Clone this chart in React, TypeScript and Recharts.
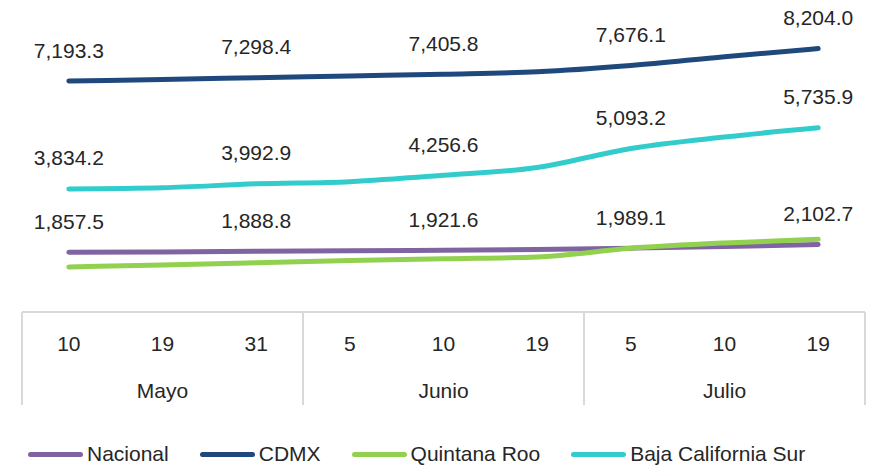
import { LineChart, Line, XAxis, YAxis, LabelList } from "recharts";

const days = ["10", "19", "31", "5", "10", "19", "5", "10", "19"];
const months = ["Mayo", "Mayo", "Mayo", "Junio", "Junio", "Junio", "Julio", "Julio", "Julio"];

const nacional = [1857.5, 1872, 1888.8, 1905, 1921.6, 1950, 1989.1, 2040, 2102.7];
const cdmx = [7193.3, 7240, 7298.4, 7350, 7405.8, 7480, 7676.1, 7950, 8204.0];
const quintanaRoo = [1405, 1460, 1530, 1600, 1660, 1715, 1985, 2150, 2265];
const bcs = [3834.2, 3870, 3992.9, 4060, 4256.6, 4500, 5093.2, 5450, 5735.9];

const series = [
  { key: "nacional", name: "Nacional", color: "#8064A2", labels: true },
  { key: "cdmx", name: "CDMX", color: "#1F497D", labels: true },
  { key: "quintanaRoo", name: "Quintana Roo", color: "#92D050", labels: false },
  { key: "bcs", name: "Baja California Sur", color: "#33CCCC", labels: true },
];

const data = days.map((d, i) => ({
  cat: `${d}-${months[i]}`,
  nacional: nacional[i],
  cdmx: cdmx[i],
  quintanaRoo: quintanaRoo[i],
  bcs: bcs[i],
}));

const W = 872;
const H = 467;
const AXIS_H = 30;
// axis line sits at y = 312
const margin = { top: 23, right: 7, left: 22, bottom: 155 - AXIS_H };
const band = (W - margin.left - margin.right) / days.length;
const FONT = "'Liberation Sans', Arial, sans-serif";
const GRID = "#d9d9d9";
const TEXT = "#262626";

const fmt = (v: number) =>
  v.toLocaleString("en-US", { minimumFractionDigits: 1, maximumFractionDigits: 1 });

function Tick(props: any) {
  const { x, y, payload } = props;
  const i = payload.index;
  const half = band / 2;
  const startsGroup = i === 0 || months[i] !== months[i - 1];
  const groupSize = months.filter((m) => m === months[i]).length;
  const groupStart = months.indexOf(months[i]);
  const isMiddle = i === groupStart + Math.floor(groupSize / 2);
  return (
    <g>
      <text x={x} y={y + 31} textAnchor="middle" dominantBaseline="central" fontSize={21} fill={TEXT} fontFamily={FONT}>
        {days[i]}
      </text>
      {isMiddle && (
        <text x={x} y={y + 78} textAnchor="middle" dominantBaseline="central" fontSize={21} fill={TEXT} fontFamily={FONT}>
          {months[i]}
        </text>
      )}
      {startsGroup && <line x1={x - half} x2={x - half} y1={y} y2={y + 93} stroke={GRID} strokeWidth={2} />}
      {i === days.length - 1 && (
        <line x1={x + half} x2={x + half} y1={y} y2={y + 93} stroke={GRID} strokeWidth={2} />
      )}
    </g>
  );
}

const renderLabel = (props: any) => {
  const { x, y, value, index } = props;
  if (index % 2 !== 0) return null;
  return (
    <text x={x} y={y - 31} textAnchor="middle" dominantBaseline="central" fontSize={21} fill={TEXT} fontFamily={FONT}>
      {fmt(value)}
    </text>
  );
};

function LegendBox() {
  return (
    <div
      style={{
        position: "absolute",
        left: 0,
        top: 441,
        width: W,
        height: 26,
        display: "flex",
        alignItems: "center",
        paddingLeft: 28,
        boxSizing: "border-box",
        fontFamily: FONT,
        fontSize: 21,
        color: TEXT,
      }}
    >
      {series.map((s) => (
        <div key={s.key} style={{ display: "flex", alignItems: "center", marginRight: 31 }}>
          <div style={{ width: 55, height: 5, borderRadius: 3, background: s.color, marginRight: 4 }} />
          <span>{s.name}</span>
        </div>
      ))}
    </div>
  );
}

export default function App() {
  return (
    <div style={{ position: "absolute", left: 0, top: 0, width: W, height: H, background: "#fff" }}>
      <LineChart width={W} height={H} data={data} margin={margin}>
        <XAxis
          dataKey="cat"
          height={AXIS_H}
          axisLine={{ stroke: GRID, strokeWidth: 2 }}
          tickLine={false}
          tickSize={0}
          tickMargin={0}
          interval={0}
          padding={{ left: band / 2, right: band / 2 }}
          tick={<Tick />}
        />
        <YAxis hide domain={[0, 9000]} />
        {series.map((s) => (
          <Line
            key={s.key}
            dataKey={s.key}
            name={s.name}
            type="monotone"
            stroke={s.color}
            strokeWidth={5}
            strokeLinecap="round"
            dot={false}
            activeDot={false}
            isAnimationActive={false}
          >
            {s.labels && <LabelList dataKey={s.key} content={renderLabel} />}
          </Line>
        ))}
      </LineChart>
      <LegendBox />
    </div>
  );
}
